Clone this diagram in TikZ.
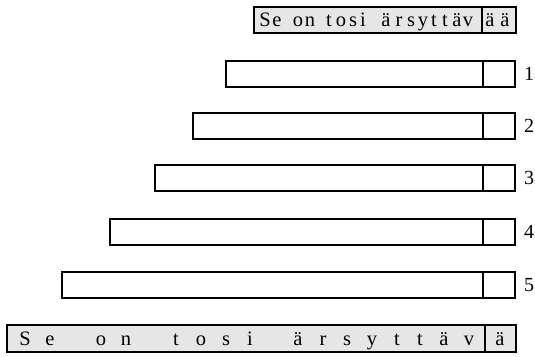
\documentclass[tikz,border=0pt]{standalone}
\usepackage{fontspec}
\setmainfont{Liberation Serif}
\definecolor{cellgray}{HTML}{E6E6E6}
\begin{document}
\begin{tikzpicture}[x=1pt,y=-1pt,
  strip/.style={draw=black,line width=2.1pt,fill=white},
  graystrip/.style={draw=black,line width=2.4pt,fill=cellgray},
  divider/.style={draw=black,line width=2.1pt},
  glyph/.style={inner sep=0pt,anchor=base,font=\fontsize{20.5}{22}\selectfont},
  numlabel/.style={inner sep=0pt,anchor=west,font=\fontsize{20}{22}\selectfont}]
\useasboundingbox (0,0) rectangle (535,356);

% top strip
\draw[graystrip] (254,7) rectangle (516,33);
\draw[divider] (482,7) -- (482,33);
\foreach \c/\x [count=\i] in {S/265,e/277,o/298,n/310,t/329,o/341,s/353,i/363,ä/386,r/399,s/411,y/423,t/434,t/445,ä/457,v/468,ä/490,ä/505}
  \node[glyph] (top\i) at (\x,26.5) {\c};

% growing strips with numbers
\foreach \l/\t [count=\k] in {226/61,193/113,155/165,110/219,62/272}{
  \draw[strip] (\l,\t) rectangle (515,\t+26);
  \draw[divider] (483,\t) -- (483,\t+26);
  \node[numlabel] (n\k) at (524,\t+13) {\k};
}

% bottom strip
\draw[graystrip] (7,325) rectangle (516,352);
\draw[divider] (485,325) -- (485,352);
\foreach \c/\x [count=\i] in {S/25,e/50,o/101,n/126,t/176,o/201,s/226,i/250,ä/298,r/323,s/347,y/372,t/397,t/420,ä/444,v/469,ä/500}
  \node[glyph] (bot\i) at (\x,345) {\c};
\end{tikzpicture}
\end{document}
